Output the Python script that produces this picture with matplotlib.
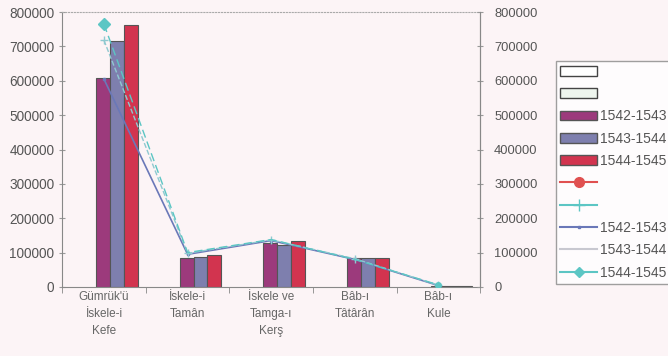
import matplotlib
matplotlib.use("Agg")
import matplotlib.pyplot as plt
import numpy as np
from matplotlib.patches import Patch
from matplotlib.lines import Line2D

plt.rcParams['font.family'] = ['Liberation Sans', 'DejaVu Sans']

categories = ["Gümrük'ü\nİskele-i\nKefe", "İskele-i\nTamân", "İskele ve\nTamga-ı\nKerş",
              "Bâb-ı\nTâtârân", "Bâb-ı\nKule"]
years = ["1542-1543", "1543-1544", "1544-1545"]
v1542 = [608000, 84000, 128000, 84000, 3000]
v1543 = [715000, 87000, 122000, 85000, 2000]
v1544 = [762000, 93000, 134000, 85000, 3000]
line1542 = [605000, 95000, 135000, 80000, 4000]
line1543 = [718000, 98000, 137000, 82000, 5000]
line1544 = [765000, 100000, 138000, 80000, 6000]

bar_colors = ['#9c3a7c', '#7e7fae', '#d2344f']
line_colors = ['#6a78b8', '#c8c8d0', '#5cc6c4']

fig = plt.figure(figsize=(6.68, 3.56), dpi=100)
fig.patch.set_facecolor('#fcf4f6')
ax = fig.add_axes([0.093, 0.194, 0.626, 0.772])
ax.set_facecolor('none')

x = np.arange(len(categories))
w = 0.165
shift = 0.155
for i, vals in enumerate([v1542, v1543, v1544]):
    ax.bar(x + shift + (i - 1) * w, vals, w, color=bar_colors[i],
           edgecolor='#555555', linewidth=0.8, zorder=2)

ax.plot(x, line1542, color=line_colors[0], lw=1.2, marker='s', ms=2, zorder=3)
ax.plot(x, line1543, color='#8fc9d0', lw=1.0, ls='--', marker='+', ms=6, zorder=3)
ax.plot(x, line1544, color=line_colors[2], lw=1.0, ls=(0, (6, 3)), zorder=3)
ax.plot(x[:1], line1544[:1], ls='none', marker='D', color=line_colors[2], ms=6, zorder=4)
ax.plot(x[-1:], line1544[-1:], ls='none', marker='o', color=line_colors[2], ms=4, zorder=4)

ax.set_xlim(-0.5, len(categories) - 0.5)
ax.set_ylim(0, 800000)
ax.set_xticks(x)
ax.set_xticklabels(categories, fontsize=8.5, color='#666666', linespacing=1.55)
ax.set_xticks(np.arange(len(categories) + 1) - 0.5, minor=True)
ax.tick_params(axis='x', which='major', length=0, pad=3)
ax.tick_params(axis='x', which='minor', length=4, color='#888888')
yt = np.arange(0, 800001, 100000)
ax.set_yticks(yt)
ax.set_yticklabels([str(v) for v in yt], fontsize=9.8, color='#555555')
ax.tick_params(axis='y', length=4, color='#999999', direction='inout')

for s in ['left', 'right', 'bottom']:
    ax.spines[s].set_color('#888888')
ax.spines['top'].set_color('#aaaaaa')
ax.spines['top'].set_linestyle(':')

ax2 = ax.twinx()
ax2.set_ylim(0, 800000)
ax2.set_yticks(yt)
ax2.set_yticklabels([str(v) for v in yt], fontsize=9.3, color='#555555')
ax2.tick_params(axis='y', length=4, color='#999999', direction='inout', pad=8)
for s in ax2.spines.values():
    s.set_visible(False)
ax2.spines['right'].set_visible(True)
ax2.spines['right'].set_color('#888888')

handles = [
    Patch(facecolor='white', edgecolor='#444444'),
    Patch(facecolor='#eef5ee', edgecolor='#444444'),
    Patch(facecolor=bar_colors[0], edgecolor='#555555'),
    Patch(facecolor=bar_colors[1], edgecolor='#555555'),
    Patch(facecolor=bar_colors[2], edgecolor='#555555'),
    Line2D([], [], color='#e05050', marker='o', ms=7),
    Line2D([], [], color='#5cc6c4', marker='+', ms=8),
    Line2D([], [], color=line_colors[0], marker='s', ms=2),
    Line2D([], [], color=line_colors[1]),
    Line2D([], [], color=line_colors[2], marker='D', ms=5),
]
labels = ['', '', years[0], years[1], years[2], '', '', years[0], years[1], years[2]]
leg = fig.legend(handles, labels, loc='upper left', bbox_to_anchor=(0.832, 0.83),
                 fontsize=10, frameon=True, fancybox=False, handlelength=2.7,
                 handletextpad=0.2, borderpad=0.3, labelspacing=0.6, borderaxespad=0)
leg.get_frame().set_edgecolor('#888888')
leg.get_frame().set_facecolor('white')
for t in leg.get_texts():
    t.set_color('#555555')

fig.savefig('out.png', dpi=100, facecolor=fig.get_facecolor())
